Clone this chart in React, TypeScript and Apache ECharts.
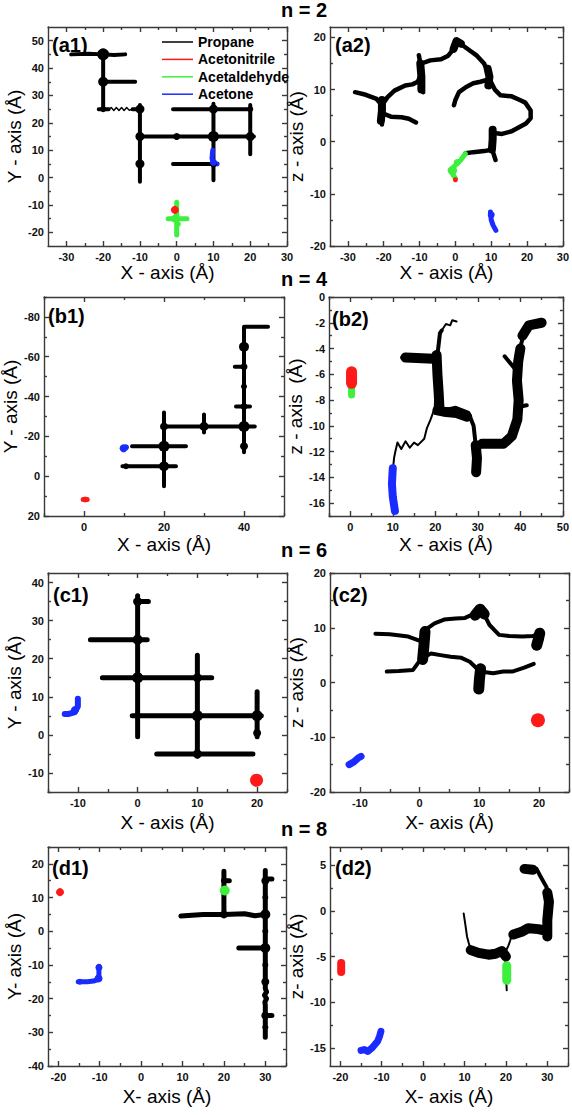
import React, { useEffect, useRef } from 'react';
import * as echarts from 'echarts';

type Seg = number[][];

// ---------- tick values ----------
const a1XLabels = [-30, -20, -10, 0, 10, 20, 30];
const a1XTicks = [-30, -25, -20, -15, -10, -5, 0, 5, 10, 15, 20, 25, 30];
const a1YLabels = [-20, -10, 0, 10, 20, 30, 40, 50];
const a1YTicks = [-20, -15, -10, -5, 0, 5, 10, 15, 20, 25, 30, 35, 40, 45, 50];
const a2YLabels = [-20, -10, 0, 10, 20];
const a2YTicks = [-20, -15, -10, -5, 0, 5, 10, 15, 20];
const b1XLabels = [0, 20, 40];
const b1XTicks = [-10, 0, 10, 20, 30, 40, 50];
const b1YLabels = [-80, -60, -40, -20, 0, 20];
const b1YTicks = [-90, -80, -70, -60, -50, -40, -30, -20, -10, 0, 10, 20];
const b2XLabels = [0, 10, 20, 30, 40, 50];
const b2XTicks = [-5, 0, 5, 10, 15, 20, 25, 30, 35, 40, 45, 50];
const b2YLabels = [0, -2, -4, -6, -8, -10, -12, -14, -16];
const b2YTicks = [0, -1, -2, -3, -4, -5, -6, -7, -8, -9, -10, -11, -12, -13, -14, -15, -16, -17];
const c1XLabels = [-10, 0, 10, 20];
const c1XTicks = [-15, -10, -5, 0, 5, 10, 15, 20, 25];
const c1YLabels = [-10, 0, 10, 20, 30, 40];
const c1YTicks = [-15, -10, -5, 0, 5, 10, 15, 20, 25, 30, 35, 40];
const c2YLabels = [-20, -10, 0, 10, 20];
const c2YTicks = [-20, -15, -10, -5, 0, 5, 10, 15, 20];
const d1XLabels = [-20, -10, 0, 10, 20, 30];
const d1XTicks = [-20, -15, -10, -5, 0, 5, 10, 15, 20, 25, 30, 35];
const d1YLabels = [-40, -30, -20, -10, 0, 10, 20];
const d1YTicks = [-40, -35, -30, -25, -20, -15, -10, -5, 0, 5, 10, 15, 20, 25];
const d2YLabels = [-15, -10, -5, 0, 5];
const d2YTicks = [-15, -12.5, -10, -7.5, -5, -2.5, 0, 2.5, 5];

// ---------- (a1) n = 2, X–Y ----------
const a1Propane: Seg[] = [
  [[-28.7, 45], [-24, 45.2], [-20, 45], [-17, 44.8], [-14, 45]],
  [[-20, 46], [-20, 40], [-20, 35], [-20, 30], [-20, 25]],
  [[-20, 35], [-15, 35], [-11.3, 35]],
  [[-21.2, 25], [-18.5, 25]],
  [[-12, 25], [-10, 25]],
  [[-10, 26.5], [-10, 15], [-10, 5], [-10, -1.5]],
  [[-10, 15], [0, 15], [10, 15], [21, 15]],
  [[10, 27], [10, 15], [10, 5], [10, -1]],
  [[-1, 25], [10, 25], [20, 25]],
  [[20, 26.5], [20, 8.5]],
  [[-1, 5], [10, 5]],
];
const a1PropaneThin: Seg[] = [
  [[-18.5, 25], [-17.8, 25.6], [-17.1, 24.5], [-16.4, 25.6], [-15.7, 24.5], [-15, 25.6], [-14.3, 24.5], [-13.6, 25.6], [-12.9, 24.6], [-12, 25]],
];
const a1PropaneBlobs = [[-20, 45, 12], [-20, 35, 10], [-10, 25, 9], [-10, 15, 9], [-10, 5, 9], [10, 25, 9], [10, 15, 11], [20, 15, 9], [0, 15, 7], [10, 5, 7], [20, 25, 6], [-20, 25, 6]];
const a1Acetaldehyde: Seg[] = [[[0, -9], [0, -21]], [[-2.3, -15], [2.8, -15]]];
const a1AcetaldehydeBlobs = [[-0.5, -15, 8], [0.3, -17, 6]];
const a1AcetonitrileBlobs = [[-0.5, -11.8, 8]];
const a1Acetone: Seg[] = [[[9.8, 10], [9.6, 7], [10, 5.2], [11, 5]]];
const a1AcetoneBlobs = [[10, 5.6, 7]];

// ---------- (a2) n = 2, X–Z ----------
const a2Propane: Seg[] = [
  [[-28, 9.5], [-25, 9], [-22, 8.2], [-20.5, 7], [-20.5, 5], [-20.5, 3.3]],
  [[-20.5, 5.5], [-18, 4.8], [-15, 4.7], [-13, 4.4], [-11, 3.7]],
  [[-20.5, 7], [-19, 8.5], [-17, 9.8], [-14, 10.8], [-12, 11], [-10.5, 11.5], [-9.5, 13]],
  [[-9, 9.5], [-9.5, 11.5], [-9.5, 13], [-9.8, 15], [-10.2, 16.6]],
  [[-9.5, 15], [-7, 15.6], [-4, 15.8], [-2, 16.5], [-0.5, 17.8], [0.3, 19.5]],
  [[0.3, 19.5], [2, 18.5], [4, 17.5], [6, 16.5], [8, 15], [9, 13.5], [9.5, 12]],
  [[9.5, 12], [7, 11.5], [5, 11.2], [3, 10.5], [1, 9.5], [0, 8], [-0.4, 7]],
  [[9.5, 12], [11, 10], [12.6, 8.9], [15.7, 8.7], [18, 8], [19.5, 7.5], [21, 6], [21, 4.5], [19.7, 3.5], [17, 2.5], [15.7, 2], [13, 1.5], [10.4, 1.7]],
  [[10.4, 1.7], [10.2, -0.5], [10.5, -2], [11.2, -3.5]],
  [[10.4, -1.5], [8, -1.8], [5, -2], [2.8, -2.2]],
];
const a2PropaneThick: Seg[] = [
  [[-20.8, 4], [-20.5, 6], [-20.5, 8]],
  [[-9.5, 10], [-9.5, 12.5], [-9.8, 15]],
  [[9.2, 10.8], [9.5, 12.5], [9, 14]],
  [[10.2, -1.5], [10.4, 0.5], [10.4, 2.3]],
  [[-0.5, 17.8], [0.3, 19.3], [1.5, 18.8]],
];
const a2Acetaldehyde: Seg[] = [[[2.8, -2.3], [1.5, -3.5], [0, -4.5], [-1.5, -5.5], [-0.5, -6.5], [0, -7]]];
const a2AcetaldehydeBlobs = [[-0.8, -5.5, 9], [0.5, -4, 7]];
const a2AcetonitrileBlobs = [[0, -7.3, 5]];
const a2Acetone: Seg[] = [[[9.8, -13.5], [10, -15], [10.5, -16], [11.3, -17]]];
const a2AcetoneBlobs = [[10, -14, 7]];

// ---------- (b1) n = 4, X–Y ----------
const b1Propane: Seg[] = [
  [[40, -75], [40, -12]],
  [[40, -75], [46, -75]],
  [[20, -25], [42.7, -25]],
  [[30, -31], [30, -22]],
  [[20, -32], [20, 5]],
  [[12, -15], [25.5, -15]],
  [[9.6, -5], [23, -5]],
  [[37.7, -55], [40, -55]],
  [[38, -35], [41.5, -35]],
];
const b1PropaneBlobs = [[40, -65, 10], [40, -55, 7], [40, -45, 6], [40, -35, 7], [40, -25, 11], [40, -15, 8], [30, -25, 9], [20, -25, 8], [20, -15, 11], [20, -5, 10], [10.5, -5, 6]];
const b1AcetonitrileBlobs = [[0.3, 11.7, 6]];
const b1Acetonitrile: Seg[] = [[[-0.2, 11.7], [0.8, 11.7]]];
const b1AcetoneBlobs = [[9.9, -14, 8], [10.5, -14.5, 6]];

// ---------- (b2) n = 4, X–Z ----------
const b2PropaneThin: Seg[] = [
  [[10, -13.5], [10.3, -12.5], [10.6, -12], [11.1, -11.3], [12, -11.8], [13, -11.2], [14, -11.7], [15, -11.3], [15.9, -11.5], [17.4, -11], [18, -10.2], [18.9, -9.5], [20, -8.5]],
  [[21.5, -2.6], [22.5, -2.1], [23.5, -2.2], [24, -1.8], [25, -1.9]],
];
const b2Propane: Seg[] = [
  [[20, -9], [20.3, -7.5], [20, -6], [20.5, -4.5], [21.1, -2.8], [21.5, -2.6]],
  [[12.2, -4.7], [16, -4.6], [19, -4.8], [20.2, -4.8]],
  [[20, -8.8], [22, -8.8], [24.8, -8.6], [27.8, -9], [29, -10], [29.5, -11.5], [29.8, -12.8], [29.5, -13.8]],
  [[29.5, -12], [31, -11.5], [32, -11.2], [35.9, -11.4], [38.1, -10.7], [38.9, -9.3], [40, -8.5], [41.5, -8.4]],
  [[40, -8.5], [39.3, -7], [38.8, -5.6], [36.3, -4.6]],
  [[38.8, -5.6], [39.5, -4.5], [40.7, -3], [42.2, -2.2], [44, -2], [45.3, -1.9]],
];
const b2PropaneThick: Seg[] = [
  [[20.3, -4.5], [20.5, -6], [20.8, -7.5], [21, -8.8]],
  [[20.5, -8.8], [22, -8.9], [25, -9], [27.5, -9.3]],
  [[29.5, -11.5], [29.8, -12.5], [29.6, -13.6]],
  [[31, -11.4], [36, -11.4], [38, -10.8], [39.3, -9.5], [39.6, -8], [39.2, -6.5], [39.5, -5], [40, -4]],
  [[13, -4.7], [19.5, -4.8]],
  [[40.5, -3], [42, -2.2], [45, -2]],
];
const b2Acetaldehyde: Seg[] = [[[0.3, -6.9], [0.3, -7.6]]];
const b2Acetonitrile: Seg[] = [[[0.3, -5.8], [0.3, -6.7]]];
const b2Acetone: Seg[] = [[[10, -13.3], [9.8, -14.5], [10, -15.5], [10.5, -16.6]]];

// ---------- (c1) n = 6, X–Y ----------
const c1Propane: Seg[] = [
  [[0, 36.5], [0, -0.5]],
  [[-7.9, 25], [1.6, 25]],
  [[-5.9, 15], [12.4, 15]],
  [[10, 20.9], [10, -5.6]],
  [[-0.9, 5], [20.7, 5]],
  [[20, 11.3], [20, -0.5]],
  [[3.2, -5], [19.3, -5]],
  [[0, 35], [1.8, 35]],
];
const c1PropaneBlobs = [[0, 35, 9], [0, 25, 10], [0, 15, 11], [10, 15, 9], [10, 5, 11], [20, 5, 11], [20, 0.5, 8], [10, -5, 9], [0, 5, 7]];
const c1Acetone: Seg[] = [[[-10, 9.5], [-10, 7.5], [-10.5, 6], [-11.5, 5.5], [-12.2, 5.5]]];
const c1AcetoneBlobs = [[-10.5, 6.5, 8]];
const c1AcetaldehydeBlobs = [[19.7, -12.8, 6]];
const c1AcetonitrileBlobs = [[19.9, -11.9, 13]];

// ---------- (c2) n = 6, X–Z ----------
const c2Propane: Seg[] = [
  [[-7.4, 8.9], [-5, 8.8], [-1.9, 8.4], [0.3, 7.5], [0.8, 6.5]],
  [[0.8, 8.5], [1.3, 9.9], [2.5, 10.8], [4.1, 11.5], [6, 11.7], [7.6, 11.8], [9, 12.5], [10.1, 13.6], [11, 12], [11.7, 10.5], [13.3, 8.7], [15, 8.5], [17.2, 8.4], [19, 8.5], [20.4, 9.3]],
  [[20, 9], [20, 6.6]],
  [[-5.5, 2], [-3.5, 2.1], [-1.1, 2.3], [0.3, 4.4], [1.9, 5.3], [3.5, 5], [5.2, 4.7], [7, 4.5], [8.4, 3.8], [10.1, 2], [9.8, -1.7]],
  [[10.1, 2], [12.3, 1.7], [14, 2], [15.5, 2], [17.5, 2.7], [19.1, 3.4]],
];
const c2PropaneThick: Seg[] = [
  [[0.5, 4.2], [0.7, 6.5], [0.9, 9.3]],
  [[9.9, -1.2], [10, 0.5], [10.2, 2.5]],
  [[9.3, 12.3], [10.1, 13.4], [10.8, 12.5]],
  [[19.6, 6.8], [19.9, 8], [20.1, 9]],
];
const c2AcetonitrileBlobs = [[19.8, -6.9, 14]];
const c2Acetone: Seg[] = [[[-11.8, -15], [-11, -14.5], [-10.3, -13.8], [-9.8, -13.5]]];

// ---------- (d1) n = 8, X–Y ----------
const d1Propane: Seg[] = [
  [[30, 18], [30, -17], [30.3, -18], [29.8, -19], [30.3, -20], [29.9, -21], [30, -22], [30, -31.5]],
  [[9.6, 4.5], [15, 5], [20, 5], [25, 5.2], [27.5, 4.6], [30, 5]],
  [[23.6, -5], [30, -5]],
  [[20, 17.8], [20, 5]],
  [[30, 15.5], [31.6, 15.5]],
  [[30, -25], [31.6, -25]],
  [[20, 15], [21.3, 15]],
];
const d1PropaneBlobs = [[30, 15, 8], [30, 5, 10], [30, -5, 10], [30, -15, 8], [30, -25, 8], [30, -28.5, 6], [20, 5, 8], [20, 15, 6], [30, 10, 6], [30, 0, 6], [30, -10, 6]];
const d1AcetaldehydeBlobs = [[20.2, 12.1, 10]];
const d1AcetonitrileBlobs = [[-19.6, 11.6, 8]];
const d1Acetone: Seg[] = [[[-10.2, -10.4], [-10.2, -12], [-10.2, -14.2], [-11.5, -14.8], [-13, -15], [-15.2, -15]]];
const d1AcetoneBlobs = [[-10.2, -10.8, 7], [-10.3, -14, 8], [-14.8, -15, 6]];

// ---------- (d2) n = 8, X–Z ----------
const d2PropaneThin: Seg[] = [
  [[9.8, -0.3], [10.2, -1.5], [10.6, -2.8], [11, -3.5], [11.4, -4.1]],
  [[19.9, -5.4], [20, -7], [20.2, -8.7]],
  [[19.9, -4.5], [20.6, -3.8], [21, -3.3], [21.4, -2.7], [21.8, -2.6]],
];
const d2Propane: Seg[] = [
  [[30, 2], [29.8, 2.6], [28.2, 3.9], [27.4, 4.6]],
];
const d2PropaneThick: Seg[] = [
  [[11.5, -4.3], [13.4, -4.6], [15.8, -4.8], [17.5, -4.7], [19, -4.4], [20, -5]],
  [[21.8, -2.6], [23.8, -2.3], [25.4, -1.9], [27.8, -2], [29.8, -2.2]],
  [[30, -2.8], [30, -1], [30.4, 1], [30, 2]],
  [[24.5, 4.6], [26.5, 4.5]],
];
const d2Acetaldehyde: Seg[] = [[[20.2, -6], [20.2, -7.6]]];
const d2Acetonitrile: Seg[] = [[[-19.8, -5.7], [-19.8, -6.7]]];
const d2Acetone: Seg[] = [[[-15, -15.3], [-14.2, -15.2], [-13.4, -15.4], [-12.3, -15], [-11, -14.3], [-10.5, -13.7], [-10.2, -13.2]]];

const molecules = ['Propane', 'Acetonitrile', 'Acetaldehyde', 'Acetone'];
const COLORS: Record<string, string> = {
  Propane: '#000000',
  Acetonitrile: '#ff1a1a',
  Acetaldehyde: '#3df03d',
  Acetone: '#1a2bff',
};
const FONT = '"Liberation Sans", Arial, Helvetica, sans-serif';
const FRAME = '#3a3a3a';

type Layer = { segs: Seg[]; width: number };
type Mol = { layers?: Layer[]; blobs?: number[][] };
type AxisCfg = { min: number; max: number; labels: number[]; ticks: number[]; name: string; gap: number; inverse?: boolean };
type Panel = {
  tag: string;
  grid: { left: number; top: number; width: number; height: number };
  tagPos: [number, number];
  x: AxisCfg;
  y: AxisCfg;
  mols: Record<string, Mol>;
};

const panels: Panel[] = [
  {
    tag: '(a1)', grid: { left: 48, top: 27, width: 239, height: 219 }, tagPos: [52, 45],
    x: { min: -35, max: 30, labels: a1XLabels, ticks: a1XTicks, name: 'X - axis (Å)', gap: 17 },
    y: { min: -25, max: 55, labels: a1YLabels, ticks: a1YTicks, name: 'Y - axis (Å)', gap: 23 },
    mols: {
      Propane: { layers: [{ segs: a1Propane, width: 4 }, { segs: a1PropaneThin, width: 1.4 }], blobs: a1PropaneBlobs },
      Acetaldehyde: { layers: [{ segs: a1Acetaldehyde, width: 5 }], blobs: a1AcetaldehydeBlobs },
      Acetonitrile: { blobs: a1AcetonitrileBlobs },
      Acetone: { layers: [{ segs: a1Acetone, width: 5 }], blobs: a1AcetoneBlobs },
    },
  },
  {
    tag: '(a2)', grid: { left: 330, top: 27, width: 239, height: 219 }, tagPos: [335, 45],
    x: { min: -35, max: 30, labels: a1XLabels, ticks: a1XTicks, name: 'X - axis (Å)', gap: 17 },
    y: { min: -20, max: 22, labels: a2YLabels, ticks: a2YTicks, name: 'z - axis (Å)', gap: 20 },
    mols: {
      Propane: { layers: [{ segs: a2Propane, width: 4.5 }, { segs: a2PropaneThick, width: 8 }] },
      Acetaldehyde: { layers: [{ segs: a2Acetaldehyde, width: 5 }], blobs: a2AcetaldehydeBlobs },
      Acetonitrile: { blobs: a2AcetonitrileBlobs },
      Acetone: { layers: [{ segs: a2Acetone, width: 5 }], blobs: a2AcetoneBlobs },
    },
  },
  {
    tag: '(b1)', grid: { left: 44, top: 297, width: 240, height: 219 }, tagPos: [48, 316],
    x: { min: -10, max: 50, labels: b1XLabels, ticks: b1XTicks, name: 'X - axis (Å)', gap: 19 },
    y: { min: -90, max: 20, labels: b1YLabels, ticks: b1YTicks, name: 'Y - axis (Å)', gap: 22, inverse: true },
    mols: {
      Propane: { layers: [{ segs: b1Propane, width: 4 }], blobs: b1PropaneBlobs },
      Acetonitrile: { layers: [{ segs: b1Acetonitrile, width: 5 }], blobs: b1AcetonitrileBlobs },
      Acetone: { blobs: b1AcetoneBlobs },
    },
  },
  {
    tag: '(b2)', grid: { left: 329, top: 297, width: 240, height: 219 }, tagPos: [332, 319],
    x: { min: -5, max: 50, labels: b2XLabels, ticks: b2XTicks, name: 'X - axis (Å)', gap: 19 },
    y: { min: -17, max: 0, labels: b2YLabels, ticks: b2YTicks, name: 'z - axis  (Å)', gap: 20 },
    mols: {
      Propane: { layers: [{ segs: b2PropaneThin, width: 2 }, { segs: b2Propane, width: 4 }, { segs: b2PropaneThick, width: 10 }] },
      Acetaldehyde: { layers: [{ segs: b2Acetaldehyde, width: 7 }] },
      Acetonitrile: { layers: [{ segs: b2Acetonitrile, width: 11 }] },
      Acetone: { layers: [{ segs: b2Acetone, width: 8 }] },
    },
  },
  {
    tag: '(c1)', grid: { left: 48, top: 573, width: 239, height: 219 }, tagPos: [53, 595],
    x: { min: -15, max: 25, labels: c1XLabels, ticks: c1XTicks, name: 'X - axis (Å)', gap: 21 },
    y: { min: -15, max: 42.5, labels: c1YLabels, ticks: c1YTicks, name: 'Y - axis (Å)', gap: 21 },
    mols: {
      Propane: { layers: [{ segs: c1Propane, width: 5 }], blobs: c1PropaneBlobs },
      Acetaldehyde: { blobs: c1AcetaldehydeBlobs },
      Acetonitrile: { blobs: c1AcetonitrileBlobs },
      Acetone: { layers: [{ segs: c1Acetone, width: 6 }], blobs: c1AcetoneBlobs },
    },
  },
  {
    tag: '(c2)', grid: { left: 330, top: 573, width: 239, height: 219 }, tagPos: [332, 595],
    x: { min: -15, max: 25, labels: c1XLabels, ticks: c1XTicks, name: 'X- axis (Å)', gap: 21 },
    y: { min: -20, max: 20, labels: c2YLabels, ticks: c2YTicks, name: 'z - axis (Å)', gap: 20 },
    mols: {
      Propane: { layers: [{ segs: c2Propane, width: 4 }, { segs: c2PropaneThick, width: 11 }] },
      Acetonitrile: { blobs: c2AcetonitrileBlobs },
      Acetone: { layers: [{ segs: c2Acetone, width: 7 }] },
    },
  },
  {
    tag: '(d1)', grid: { left: 48, top: 847, width: 238, height: 219 }, tagPos: [52, 868],
    x: { min: -22.5, max: 35, labels: d1XLabels, ticks: d1XTicks, name: 'X- axis (Å)', gap: 21 },
    y: { min: -40, max: 25, labels: d1YLabels, ticks: d1YTicks, name: 'Y- axis (Å)', gap: 21 },
    mols: {
      Propane: { layers: [{ segs: d1Propane, width: 5 }], blobs: d1PropaneBlobs },
      Acetaldehyde: { blobs: d1AcetaldehydeBlobs },
      Acetonitrile: { blobs: d1AcetonitrileBlobs },
      Acetone: { layers: [{ segs: d1Acetone, width: 5 }], blobs: d1AcetoneBlobs },
    },
  },
  {
    tag: '(d2)', grid: { left: 330, top: 847, width: 238, height: 219 }, tagPos: [335, 868],
    x: { min: -22.5, max: 35, labels: d1XLabels, ticks: d1XTicks, name: 'X- axis (Å)', gap: 21 },
    y: { min: -17, max: 7, labels: d2YLabels, ticks: d2YTicks, name: 'z- axis (Å)', gap: 18 },
    mols: {
      Propane: { layers: [{ segs: d2PropaneThin, width: 2 }, { segs: d2Propane, width: 4 }, { segs: d2PropaneThick, width: 10 }] },
      Acetaldehyde: { layers: [{ segs: d2Acetaldehyde, width: 9 }] },
      Acetonitrile: { layers: [{ segs: d2Acetonitrile, width: 8 }] },
      Acetone: { layers: [{ segs: d2Acetone, width: 7 }] },
    },
  },
];

const titles = [
  { text: 'n = 2', y: 10 },
  { text: 'n = 4', y: 279 },
  { text: 'n = 6', y: 550 },
  { text: 'n = 8', y: 829 },
];

function joinSegs(segs: Seg[]) {
  const out: any[] = [];
  segs.forEach((s, i) => {
    if (i > 0) out.push(['-', '-']);
    s.forEach((p) => out.push(p));
  });
  return out;
}

const lineStyleFrame = { color: FRAME, width: 1.4 };
const AXES_PER_GRID = 4;

// 4 axes per grid and direction: main (labels + major ticks), mirror (major ticks),
// and two minor-tick axes on both sides.
function axisSet(kind: 'x' | 'y', cfg: AxisCfg, gi: number) {
  const sideA = kind === 'x' ? 'bottom' : 'left';
  const sideB = kind === 'x' ? 'top' : 'right';
  const majors = cfg.labels;
  const minors = cfg.ticks.filter((t) => majors.indexOf(t) < 0);
  const base = { type: 'value', gridIndex: gi, min: cfg.min, max: cfg.max, inverse: !!cfg.inverse, splitLine: { show: false } };
  const main: any = {
    ...base, position: sideA,
    name: cfg.name, nameLocation: 'middle', nameGap: cfg.gap,
    nameTextStyle: { fontFamily: FONT, fontSize: 19, color: '#000' },
    axisLine: { show: true, onZero: false, lineStyle: lineStyleFrame },
    axisTick: { show: true, inside: true, length: 5, customValues: majors, lineStyle: lineStyleFrame },
    axisLabel: {
      show: true, customValues: cfg.labels, margin: kind === 'x' ? 5 : 4,
      fontFamily: FONT, fontSize: 11, fontWeight: 'bold', color: '#111',
      showMinLabel: true, showMaxLabel: true, hideOverlap: false,
    },
  };
  const mirror: any = {
    ...base, position: sideB,
    axisLine: { show: true, onZero: false, lineStyle: lineStyleFrame },
    axisTick: { show: true, inside: true, length: 5, customValues: majors, lineStyle: lineStyleFrame },
    axisLabel: { show: false },
  };
  const minorA: any = {
    ...base, position: sideA,
    axisLine: { show: false, onZero: false },
    axisTick: { show: true, inside: true, length: 3, customValues: minors, lineStyle: lineStyleFrame },
    axisLabel: { show: false },
  };
  const minorB: any = { ...minorA, position: sideB };
  return [main, mirror, minorA, minorB];
}

function buildOption() {
  const series: any[] = [];
  const order = ['Propane', 'Acetaldehyde', 'Acetonitrile', 'Acetone'];
  panels.forEach((p, i) => {
    const ax = AXES_PER_GRID * i;
    order.forEach((m) => {
      const mol = p.mols[m];
      if (!mol) return;
      (mol.layers || []).forEach((layer) => {
        series.push({
          type: 'line', name: m, xAxisIndex: ax, yAxisIndex: ax,
          data: joinSegs(layer.segs), showSymbol: false, symbol: 'none', connectNulls: false,
          lineStyle: { color: COLORS[m], width: layer.width, cap: 'round', join: 'round' },
          itemStyle: { color: COLORS[m] }, z: 2, silent: true,
        });
      });
      if (mol.blobs) {
        series.push({
          type: 'scatter', name: m, xAxisIndex: ax, yAxisIndex: ax,
          data: mol.blobs, symbol: 'circle', symbolSize: (v: number[]) => v[2],
          itemStyle: { color: COLORS[m], opacity: 1 }, z: 3, silent: true,
        });
      }
    });
  });

  const graphic: any[] = [];
  titles.forEach((t) => {
    graphic.push({
      type: 'text', x: 304, y: t.y, z: 100,
      style: { text: t.text, fontFamily: FONT, fontSize: 20, fontWeight: 'bold', fill: '#000', align: 'center', verticalAlign: 'middle' },
    });
  });
  panels.forEach((p) => {
    graphic.push({
      type: 'text', x: p.tagPos[0], y: p.tagPos[1], z: 100,
      style: { text: p.tag, fontFamily: FONT, fontSize: 20, fontWeight: 'bold', fill: '#000', align: 'left', verticalAlign: 'middle' },
    });
  });

  return {
    animation: false,
    backgroundColor: '#ffffff',
    grid: panels.map((p) => ({ ...p.grid, containLabel: false })),
    xAxis: panels.flatMap((p, i) => axisSet('x', p.x, i)),
    yAxis: panels.flatMap((p, i) => axisSet('y', p.y, i)),
    legend: {
      data: molecules, orient: 'vertical', left: 157, top: 29, icon: 'rect',
      itemWidth: 31, itemHeight: 1.5, itemGap: 1.4, selectedMode: false,
      textStyle: { fontFamily: FONT, fontSize: 14, fontWeight: 'bold', color: '#000', lineHeight: 16 },
    },
    graphic,
    series,
  };
}

export default function App() {
  const ref = useRef<HTMLDivElement>(null);
  useEffect(() => {
    if (!ref.current) return;
    const chart = echarts.init(ref.current, undefined, { renderer: 'svg' });
    chart.setOption(buildOption() as any);
    return () => chart.dispose();
  }, []);
  return (
    <div
      ref={ref}
      style={{ position: 'absolute', left: 0, top: 0, width: 572, height: 1115, background: '#fff' }}
    />
  );
}
